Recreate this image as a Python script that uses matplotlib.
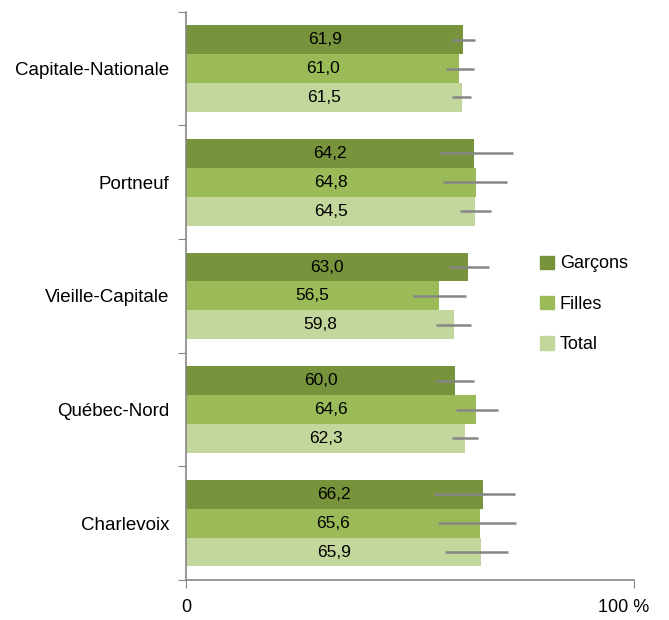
import matplotlib
matplotlib.use("Agg")
import matplotlib.pyplot as plt
from matplotlib.patches import Patch
import numpy as np

plt.rcParams["font.family"] = ["Liberation Sans", "DejaVu Sans"]

regions = ["Capitale-Nationale", "Portneuf", "Vieille-Capitale", "Québec-Nord", "Charlevoix"]
series = ["Garçons", "Filles", "Total"]
garcons = [61.9, 64.2, 63.0, 60.0, 66.2]
filles = [61.0, 64.8, 56.5, 64.6, 65.6]
total = [61.5, 64.5, 59.8, 62.3, 65.9]
# confidence interval bounds (low, high)
garcons_ci = [(59.2, 64.5), (56.5, 72.9), (58.6, 67.5), (55.6, 64.2), (55.3, 73.4)]
filles_ci = [(58.0, 64.2), (57.3, 71.7), (50.7, 62.5), (60.3, 69.6), (56.2, 73.6)]
total_ci = [(59.4, 63.6), (61.2, 68.0), (55.8, 63.6), (59.4, 65.1), (57.7, 71.8)]

colors = ["#77933C", "#9BBB59", "#C3D69B"]
GRAY = "#868686"

fig = plt.figure(figsize=(6.69, 6.2), dpi=100)
ax = fig.add_axes([0.278, 0.0645, 0.670, 0.9165])

y = np.arange(len(regions))
h = 0.254
offsets = [-h, 0, h]
for vals, ci, col, off, name in zip([garcons, filles, total],
                                    [garcons_ci, filles_ci, total_ci],
                                    colors, offsets, series):
    ax.barh(y + off, vals, height=h, color=col, label=name, zorder=2)
    for yi, v, (lo, hi) in zip(y + off, vals, ci):
        ax.plot([lo, hi], [yi, yi], color=GRAY, lw=1.8, zorder=3,
                solid_capstyle="butt")
        ax.text(v / 2, yi, f"{v:.1f}".replace(".", ","), ha="center",
                va="center", fontsize=12.5, zorder=4)

ax.set_xlim(0, 100)
ax.set_ylim(len(regions) - 0.5, -0.5)
ax.set_xticks([0, 100])
ax.set_xticklabels(["0", ""], fontsize=13)
# "100 %" sits a little left of its tick in the original
ax.annotate("100 %", xy=(100, 0), xycoords=("data", "axes fraction"),
            xytext=(-7.6, -13.8), textcoords="offset points",
            ha="center", va="top", fontsize=13)
ax.set_yticks(np.arange(-0.5, len(regions), 1.0))
ax.set_yticklabels([])
ax.set_yticks(y, minor=True)
ax.set_yticklabels(regions, minor=True, fontsize=13.5)
ax.tick_params(axis="y", which="minor", length=0, pad=12)
ax.tick_params(axis="y", which="major", length=6, color=GRAY)
ax.tick_params(axis="x", length=6, color=GRAY, pad=8)
for s in ("top", "right"):
    ax.spines[s].set_visible(False)
for s in ("left", "bottom"):
    ax.spines[s].set_color(GRAY)
    ax.spines[s].set_linewidth(1.2)

handles = [Patch(color=c, label=n) for c, n in zip(colors, series)]
ax.legend(handles=handles, loc="center left", bbox_to_anchor=(0.79, 0.485),
          frameon=False, fontsize=13, handlelength=0.75, handleheight=0.75,
          handletextpad=0.35, labelspacing=1.3, borderpad=0, borderaxespad=0)

fig.savefig("out.png", dpi=100)
